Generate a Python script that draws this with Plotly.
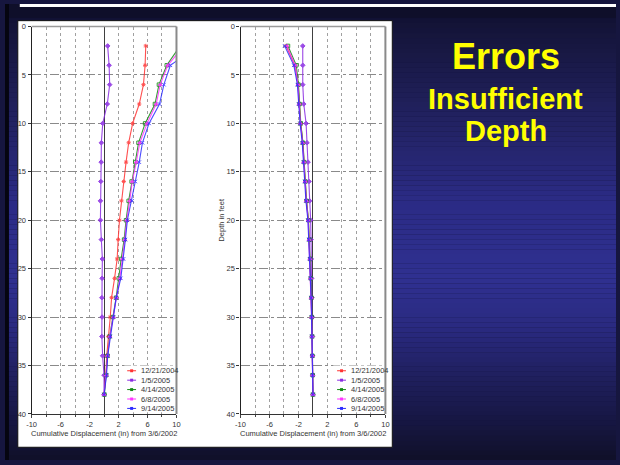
import plotly.graph_objects as go

# ---------------- data ----------------
depth_ft = [2, 4, 6, 8, 10, 12, 14, 16, 18, 20, 22, 24, 26, 28, 30, 32, 34, 36, 38]
series_names = ["12/21/2004", "1/5/2005", "4/14/2005", "6/8/2005", "9/14/2005"]

# left chart (cumulative displacement, in)
left_1221_2004 = [5.76, 5.67, 5.44, 4.86, 3.95, 3.40, 3.04, 2.72, 2.40, 2.13, 1.95, 1.81, 1.45, 1.04, 0.86, 0.59, 0.37, 0.25, 0.00]
left_0105_2005 = [0.50, 0.70, 0.78, 0.45, -0.18, -0.37, -0.40, -0.45, -0.50, -0.50, -0.37, -0.23, -0.27, -0.30, -0.27, -0.30, -0.20, 0.00, 0.00]
left_0414_2005 = [10.5, 8.66, 7.58, 7.03, 5.67, 4.76, 4.31, 3.81, 3.40, 3.04, 2.77, 2.36, 2.04, 1.67, 1.22, 0.78, 0.50, 0.30, 0.05]
left_0608_2005 = [11.0, 8.80, 7.76, 7.20, 5.94, 4.94, 4.45, 3.90, 3.54, 3.13, 2.86, 2.54, 2.18, 1.72, 1.30, 0.80, 0.50, 0.30, 0.00]
left_0914_2005 = [13.0, 9.16, 8.26, 7.66, 6.21, 5.30, 4.86, 4.31, 3.86, 3.22, 2.95, 2.68, 2.31, 1.68, 1.30, 0.85, 0.50, 0.35, 0.00]

# right chart
right_1221_2004 = [-3.70, -2.50, -2.05, -1.88, -1.70, -1.40, -1.25, -1.08, -0.90, -0.63, -0.52, -0.40, -0.30, -0.22, -0.17, -0.13, -0.08, -0.04, 0.00]
right_0105_2005 = [-1.41, -1.41, -1.41, -1.27, -0.95, -0.82, -0.68, -0.54, -0.46, -0.32, -0.27, -0.23, -0.18, -0.14, -0.10, -0.07, -0.05, -0.03, 0.00]
right_0414_2005 = [-3.45, -2.30, -2.00, -1.85, -1.68, -1.38, -1.22, -1.05, -0.88, -0.62, -0.50, -0.38, -0.30, -0.21, -0.16, -0.12, -0.08, -0.04, 0.00]
right_0608_2005 = [-3.60, -2.45, -2.08, -1.92, -1.73, -1.43, -1.28, -1.10, -0.92, -0.66, -0.55, -0.42, -0.33, -0.24, -0.19, -0.14, -0.09, -0.05, 0.00]
right_0914_2005 = [-3.90, -2.64, -2.15, -1.98, -1.78, -1.48, -1.33, -1.15, -0.97, -0.70, -0.58, -0.45, -0.35, -0.26, -0.20, -0.15, -0.10, -0.05, 0.00]

x_tick_vals = [-10, -6, -2, 2, 6, 10]
y_tick_vals = [0, 5, 10, 15, 20, 25, 30, 35, 40]
x_title = "Cumulative Displacement (in) from 3/6/2002"
y_title = "Depth in feet"
title_lines = ["Errors", "Insufficient", "Depth"]

left_series = [left_1221_2004, left_0105_2005, left_0414_2005, left_0608_2005, left_0914_2005]
right_series = [right_1221_2004, right_0105_2005, right_0414_2005, right_0608_2005, right_0914_2005]

# ---------------- style ----------------
W, H = 620, 465
colors = ["#ff3333", "#8a2be2", "#138a13", "#ff33ff", "#2b2bff"]
symbols = ["asterisk-open", "diamond", "square-open", "triangle-up", "x-thin-open"]
FONT = "Liberation Sans, Arial, sans-serif"


def px(x):
    return x / W


def py(y):
    return 1 - y / H


fig = go.Figure()

for vals, name, c, s in zip(left_series, series_names, colors, symbols):
    fig.add_trace(go.Scatter(x=vals, y=depth_ft, name=name, mode="lines+markers",
                             line=dict(color=c, width=1.1), opacity=0.85,
                             marker=dict(symbol=s, size=3.5, color=c, line=dict(color=c, width=1)),
                             xaxis="x", yaxis="y", showlegend=False, cliponaxis=True))
for vals, name, c, s in zip(right_series, series_names, colors, symbols):
    fig.add_trace(go.Scatter(x=vals, y=depth_ft, name=name, mode="lines+markers",
                             line=dict(color=c, width=1.1), opacity=0.85,
                             marker=dict(symbol=s, size=3.5, color=c, line=dict(color=c, width=1)),
                             xaxis="x2", yaxis="y2", showlegend=False, cliponaxis=True))

ydom = [py(418), py(23)]
common_x = dict(range=[-10, 10], tickvals=x_tick_vals, ticktext=[str(v) for v in x_tick_vals],
                showgrid=True, gridcolor="#a0a0a0", griddash="dot", gridwidth=1,
                minor=dict(dtick=2, showgrid=True, gridcolor="#a0a0a0", griddash="dot",
                           ticks="outside", ticklen=2, tickcolor="#444"),
                zeroline=True, zerolinecolor="#404040", zerolinewidth=1.2,
                showline=True, linecolor="#333", linewidth=1,
                ticks="outside", ticklen=3, tickcolor="#444",
                tickfont=dict(family=FONT, size=7.5, color="#333"), fixedrange=True)
common_y = dict(range=[40, 0], tickvals=y_tick_vals, showgrid=True, gridcolor="#8a8a8a",
                griddash="dashdot", gridwidth=1, zeroline=False,
                showline=True, linecolor="#222", linewidth=1.2,
                ticks="outside", ticklen=3, tickcolor="#333",
                tickfont=dict(family=FONT, size=7.5, color="#333"), fixedrange=True)

fig.update_layout(
    width=W, height=H, margin=dict(l=0, r=0, t=0, b=0),
    paper_bgcolor="#16163f", plot_bgcolor="rgba(0,0,0,0)",
    showlegend=False,
    xaxis=dict(domain=[px(27), px(174)], anchor="y", **common_x),
    yaxis=dict(domain=ydom, anchor="x", **common_y),
    xaxis2=dict(domain=[px(239), px(386)], anchor="y2", **common_x),
    yaxis2=dict(domain=ydom, anchor="x2", **common_y),
)

shapes = []
# background vertical gradient
stops = [(0, (15, 15, 44)), (40, (23, 23, 64)), (120, (34, 34, 98)), (200, (43, 43, 133)),
         (280, (47, 48, 144)), (330, (42, 42, 128)), (380, (31, 31, 94)), (430, (22, 22, 64)),
         (465, (16, 16, 40))]


def col_at(y):
    for (y0, c0), (y1, c1) in zip(stops[:-1], stops[1:]):
        if y0 <= y <= y1:
            t = (y - y0) / (y1 - y0)
            return "rgb(%d,%d,%d)" % tuple(round(a + (b - a) * t) for a, b in zip(c0, c1))
    return "rgb(16,16,40)"


step = 5
for y in range(0, H, step):
    shapes.append(dict(type="rect", xref="paper", yref="paper", x0=0, x1=1,
                       y0=py(y + step), y1=py(y), fillcolor=col_at(y + step / 2),
                       line=dict(width=0), layer="below"))
# dark top band and left strip
shapes.append(dict(type="rect", xref="paper", yref="paper", x0=0, x1=1, y0=py(14), y1=1,
                   fillcolor="#0f0f2a", line=dict(width=0), layer="below"))
shapes.append(dict(type="rect", xref="paper", yref="paper", x0=px(15), x1=1, y0=py(3), y1=1,
                   fillcolor="#ffffff", line=dict(width=0), layer="below"))
shapes.append(dict(type="rect", xref="paper", yref="paper", x0=0, x1=px(4), y0=0, y1=1,
                   fillcolor="#050510", line=dict(width=0), layer="below"))
# white chart panel
shapes.append(dict(type="rect", xref="paper", yref="paper", x0=px(13), x1=px(393), y0=py(452), y1=py(17),
                   fillcolor="#ffffff", line=dict(color="#111111", width=1), layer="below"))

# plot frames (top, right) and legend boxes
for xa, ya in (("x", "y"), ("x2", "y2")):
    shapes.append(dict(type="line", xref=xa + " domain", yref=ya + " domain", x0=0, x1=1, y0=1, y1=1,
                       line=dict(color="#9a9a9a", width=1.5), layer="above"))
    shapes.append(dict(type="line", xref=xa + " domain", yref=ya + " domain", x0=1, x1=1, y0=0, y1=1,
                       line=dict(color="#8a8a8a", width=2), layer="above"))
    shapes.append(dict(type="rect", xref=xa + " domain", yref=ya + " domain",
                       x0=0.64, x1=0.985, y0=0.004, y1=0.125,
                       fillcolor="#ffffff", line=dict(width=0), layer="above"))

annotations = []
# custom legends
legend_rows = [374, 383.6, 393.2, 402.8, 412.4]
for lx in (124, 337):
    for yy, name, c in zip(legend_rows, series_names, colors):
        shapes.append(dict(type="line", xref="paper", yref="paper", x0=px(lx), x1=px(lx + 9),
                           y0=py(yy), y1=py(yy), line=dict(color=c, width=1), layer="above"))
        shapes.append(dict(type="rect", xref="paper", yref="paper", x0=px(lx + 3), x1=px(lx + 6),
                           y0=py(yy + 1.5), y1=py(yy - 1.5), fillcolor=c, line=dict(width=0),
                           layer="above"))
        annotations.append(dict(xref="paper", yref="paper", x=px(lx + 12), y=py(yy), text=name,
                                showarrow=False, xanchor="left", yanchor="middle",
                                font=dict(family=FONT, size=7.5, color="#333")))

# axis titles
for cx in ((27 + 174) / 2, (239 + 386) / 2):
    annotations.append(dict(xref="paper", yref="paper", x=px(cx), y=py(437.5), text=x_title,
                            showarrow=False, xanchor="center", yanchor="middle",
                            font=dict(family=FONT, size=7.5, color="#333")))
annotations.append(dict(xref="paper", yref="paper", x=px(220), y=py(220), text=y_title, textangle=-90,
                        showarrow=False, xanchor="center", yanchor="middle",
                        font=dict(family=FONT, size=7.5, color="#333")))

# slide title text
for txt, yy, sz in zip(title_lines, [54, 97, 130], [36, 29, 29]):
    annotations.append(dict(xref="paper", yref="paper", x=px(508), y=py(yy), text="<b>%s</b>" % txt,
                            showarrow=False, xanchor="center", yanchor="middle",
                            font=dict(family=FONT, size=sz, color="#ffff00")))

fig.update_layout(shapes=shapes, annotations=annotations)
fig.write_html("out.html", config={"displayModeBar": False},
               post_script="document.body.style.margin='0';document.body.style.overflow='hidden';")
